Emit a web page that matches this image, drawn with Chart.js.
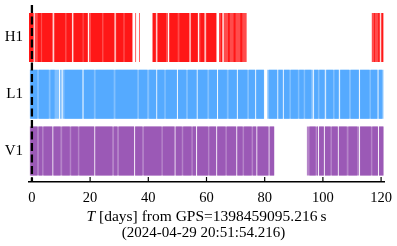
<!DOCTYPE html>
<html>
<head>
<meta charset="utf-8">
<script src="https://cdn.jsdelivr.net/npm/chart.js@4.4.1/dist/chart.umd.min.js"></script>
<style>
  html, body { margin: 0; padding: 0; background: #fff; }
  #wrap { width: 397px; height: 246px; }
</style>
</head>
<body>
<div id="wrap"><canvas id="chart"></canvas></div>
<script>
// Detector rows and x axis
const detectors = ['H1', 'L1', 'V1'];
const xTicks = [0, 20, 40, 60, 80, 100, 120];
const xLabelLines = ['[days] from GPS=1398459095.216\u2009s', '(2024-04-29 20:51:54.216)'];
const triggerDay = 0;

// Observing segments [start, end] in days; the second list of each detector overlaps the first
const h1Segments = [
  [-1.0, 0.6], [0.95, 7.15], [7.5, 13.85], [14.2, 19.25], [19.6, 28.4], [28.75, 34.6],
  [35.5, 35.8], [36.8, 37.1], [41.4, 42.75], [43.05, 46.75], [47.1, 54.2], [54.5, 57.1],
  [57.45, 59.35], [59.7, 63.45], [64.3, 65.45], [65.9, 73.8], [116.8, 119.55], [119.9, 120.8]
];
const h1Overlap = [
  [-1.0, 0.5], [2.0, 3.1], [3.5, 7.0], [7.9, 11.4], [11.9, 13.7], [14.4, 17.4], [17.8, 19.1],
  [20.3, 24.1], [24.6, 28.3], [29.0, 31.4], [31.9, 34.4], [41.6, 42.5], [43.3, 46.1],
  [47.4, 50.1], [50.7, 54.0], [54.7, 56.9], [57.9, 59.2], [60.0, 63.3], [64.9, 65.4],
  [67.4, 68.0], [69.3, 70.0], [71.6, 72.3], [117.6, 117.9], [119.0, 119.5], [120.3, 120.7]
];
const l1Segments = [
  [-0.7, 9.35], [9.65, 10.25], [10.55, 17.4], [17.75, 42.75], [43.05, 49.85], [50.15, 56.65],
  [56.95, 63.65], [63.95, 70.45], [70.75, 76.75], [77.05, 79.8], [80.9, 84.35], [84.65, 86.25],
  [86.55, 96.55], [96.85, 100.65], [100.95, 105.5], [105.8, 112.4], [112.7, 118.8], [119.1, 120.8]
];
const l1Overlap = [
  [-0.5, 1.8], [2.4, 5.8], [6.4, 7.8], [11.2, 17.3], [17.8, 21.3], [21.9, 28.1], [28.7, 36.2],
  [36.8, 39.6], [40.3, 42.7], [43.1, 45.5], [46.0, 49.8], [50.2, 53.0], [53.6, 56.6],
  [57.0, 60.3], [60.9, 63.6], [64.0, 67.0], [67.6, 70.4], [70.8, 74.0], [74.6, 76.7],
  [77.1, 79.7], [81.5, 84.3], [84.7, 86.2], [86.6, 88.5], [89.0, 91.4], [91.9, 93.4],
  [93.9, 96.0], [97.0, 98.3], [98.8, 100.6], [101.2, 103.5], [104.0, 105.4], [106.0, 109.0],
  [109.6, 112.3], [112.8, 116.0], [116.5, 118.7], [119.2, 120.3]
];
const v1Segments = [
  [-0.7, 7.05], [7.35, 21.45], [21.75, 35.15], [35.45, 49.05], [49.35, 56.45], [56.75, 63.35],
  [63.65, 70.25], [70.55, 77.15], [77.45, 81.35], [81.65, 83.3], [94.5, 98.35], [98.65, 100.35],
  [100.65, 105.15], [105.45, 112.45], [112.75, 118.95], [119.25, 120.8]
];
const v1Overlap = [
  [-0.5, 1.8], [2.4, 3.5], [4.0, 7.0], [7.4, 9.8], [10.4, 13.0], [13.5, 15.8], [16.3, 21.4],
  [21.8, 27.6], [28.2, 29.3], [29.9, 35.1], [35.5, 37.9], [38.5, 44.5], [45.0, 49.0],
  [49.4, 51.5], [52.0, 54.8], [55.3, 56.4], [56.8, 60.5], [61.0, 63.3], [63.7, 66.5],
  [67.0, 70.2], [70.6, 72.4], [72.9, 75.5], [76.0, 77.1], [77.5, 81.3], [81.7, 83.2],
  [95.4, 97.5], [98.0, 98.3], [98.7, 100.3], [100.7, 102.6], [103.1, 105.1], [105.5, 108.2],
  [108.8, 111.8], [112.8, 116.5], [117.0, 118.9], [119.3, 120.8]
];

const fontFamily = "'Liberation Serif', 'DejaVu Serif', serif";
const yMin = -0.573, yMax = 2.546;

const detectorColors = {
  H1: 'rgba(255, 0, 0, 0.7)',
  L1: 'rgba(61, 158, 255, 0.65)',
  V1: 'rgba(141, 66, 172, 0.65)'
};
const layers = {
  H1: [h1Segments, h1Overlap],
  L1: [l1Segments, l1Overlap],
  V1: [v1Segments, v1Overlap]
};

const datasets = [];
detectors.forEach((det, i) => {
  layers[det].forEach(segs => {
    datasets.push({
      type: 'bar',
      label: det,
      data: segs.map(s => ({ x: s, y: i })),
      backgroundColor: detectorColors[det],
      borderWidth: 0,
      inflateAmount: 0,
      barThickness: 49,
      grouped: false,
      order: 1
    });
  });
});
// trigger time marker
datasets.push({
  type: 'line',
  label: 'trigger',
  data: [{ x: triggerDay, y: yMin }, { x: triggerDay, y: yMax }],
  borderColor: '#000',
  borderWidth: 2.3,
  borderDash: [8, 3.5],
  pointRadius: 0,
  order: 0
});

// tick marks drawn inward from the bottom axis
const innerTicks = {
  id: 'innerTicks',
  afterDraw(chart) {
    const { ctx, chartArea, scales: { x } } = chart;
    ctx.save();
    ctx.strokeStyle = '#000';
    ctx.lineWidth = 1.2;
    x.ticks.forEach(t => {
      const px = x.getPixelForValue(t.value);
      ctx.beginPath();
      ctx.moveTo(px, chartArea.bottom);
      ctx.lineTo(px, chartArea.bottom - 5);
      ctx.stroke();
    });
    ctx.restore();
  }
};

// two-line x label with italic T
const xTitle = {
  id: 'xTitle',
  afterDraw(chart) {
    const { ctx, chartArea } = chart;
    const cx = (chartArea.left + chartArea.right) / 2;
    const italic = `italic 15.5px ${fontFamily}`;
    const normal = `15.5px ${fontFamily}`;
    ctx.save();
    ctx.fillStyle = '#000';
    ctx.textBaseline = 'alphabetic';
    ctx.textAlign = 'left';
    ctx.font = italic;
    const wT = ctx.measureText('T').width + 4;
    ctx.font = normal;
    const wRest = ctx.measureText(xLabelLines[0]).width;
    const x0 = cx - (wT + wRest) / 2;
    ctx.font = italic;
    ctx.fillText('T', x0, 221);
    ctx.font = normal;
    ctx.fillText(xLabelLines[0], x0 + wT, 221);
    ctx.font = `15px ${fontFamily}`;
    ctx.textAlign = 'center';
    ctx.fillText(xLabelLines[1], cx - 3, 236.5);
    ctx.restore();
  }
};

new Chart(document.getElementById('chart'), {
  data: { datasets },
  options: {
    indexAxis: 'y',
    responsive: true,
    maintainAspectRatio: false,
    animation: false,
    layout: { autoPadding: false, padding: { left: 0, right: 13, top: 5, bottom: 0 } },
    plugins: {
      legend: { display: false },
      tooltip: { enabled: false }
    },
    scales: {
      x: {
        type: 'linear',
        min: -1,
        max: 121,
        offset: false,
        afterBuildTicks: s => { s.ticks = xTicks.map(v => ({ value: v })); },
        afterFit: s => { s.height = 64; s.paddingLeft = 0; s.paddingRight = 0; },
        grid: { display: false, drawTicks: false },
        border: { display: true, color: '#000', width: 1.4 },
        ticks: { color: '#000', padding: 7, font: { family: fontFamily, size: 14.5 } }
      },
      y: {
        type: 'linear',
        min: yMin,
        max: yMax,
        offset: false,
        reverse: true,
        afterBuildTicks: s => { s.ticks = detectors.map((d, i) => ({ value: i })); },
        afterFit: s => { s.width = 29; s.paddingTop = 0; s.paddingBottom = 0; },
        grid: { display: false, drawTicks: false },
        border: { display: false },
        ticks: {
          color: '#000',
          padding: 6,
          font: { family: fontFamily, size: 15 },
          callback: v => detectors[v]
        }
      }
    }
  },
  plugins: [innerTicks, xTitle]
});
</script>
</body>
</html>
